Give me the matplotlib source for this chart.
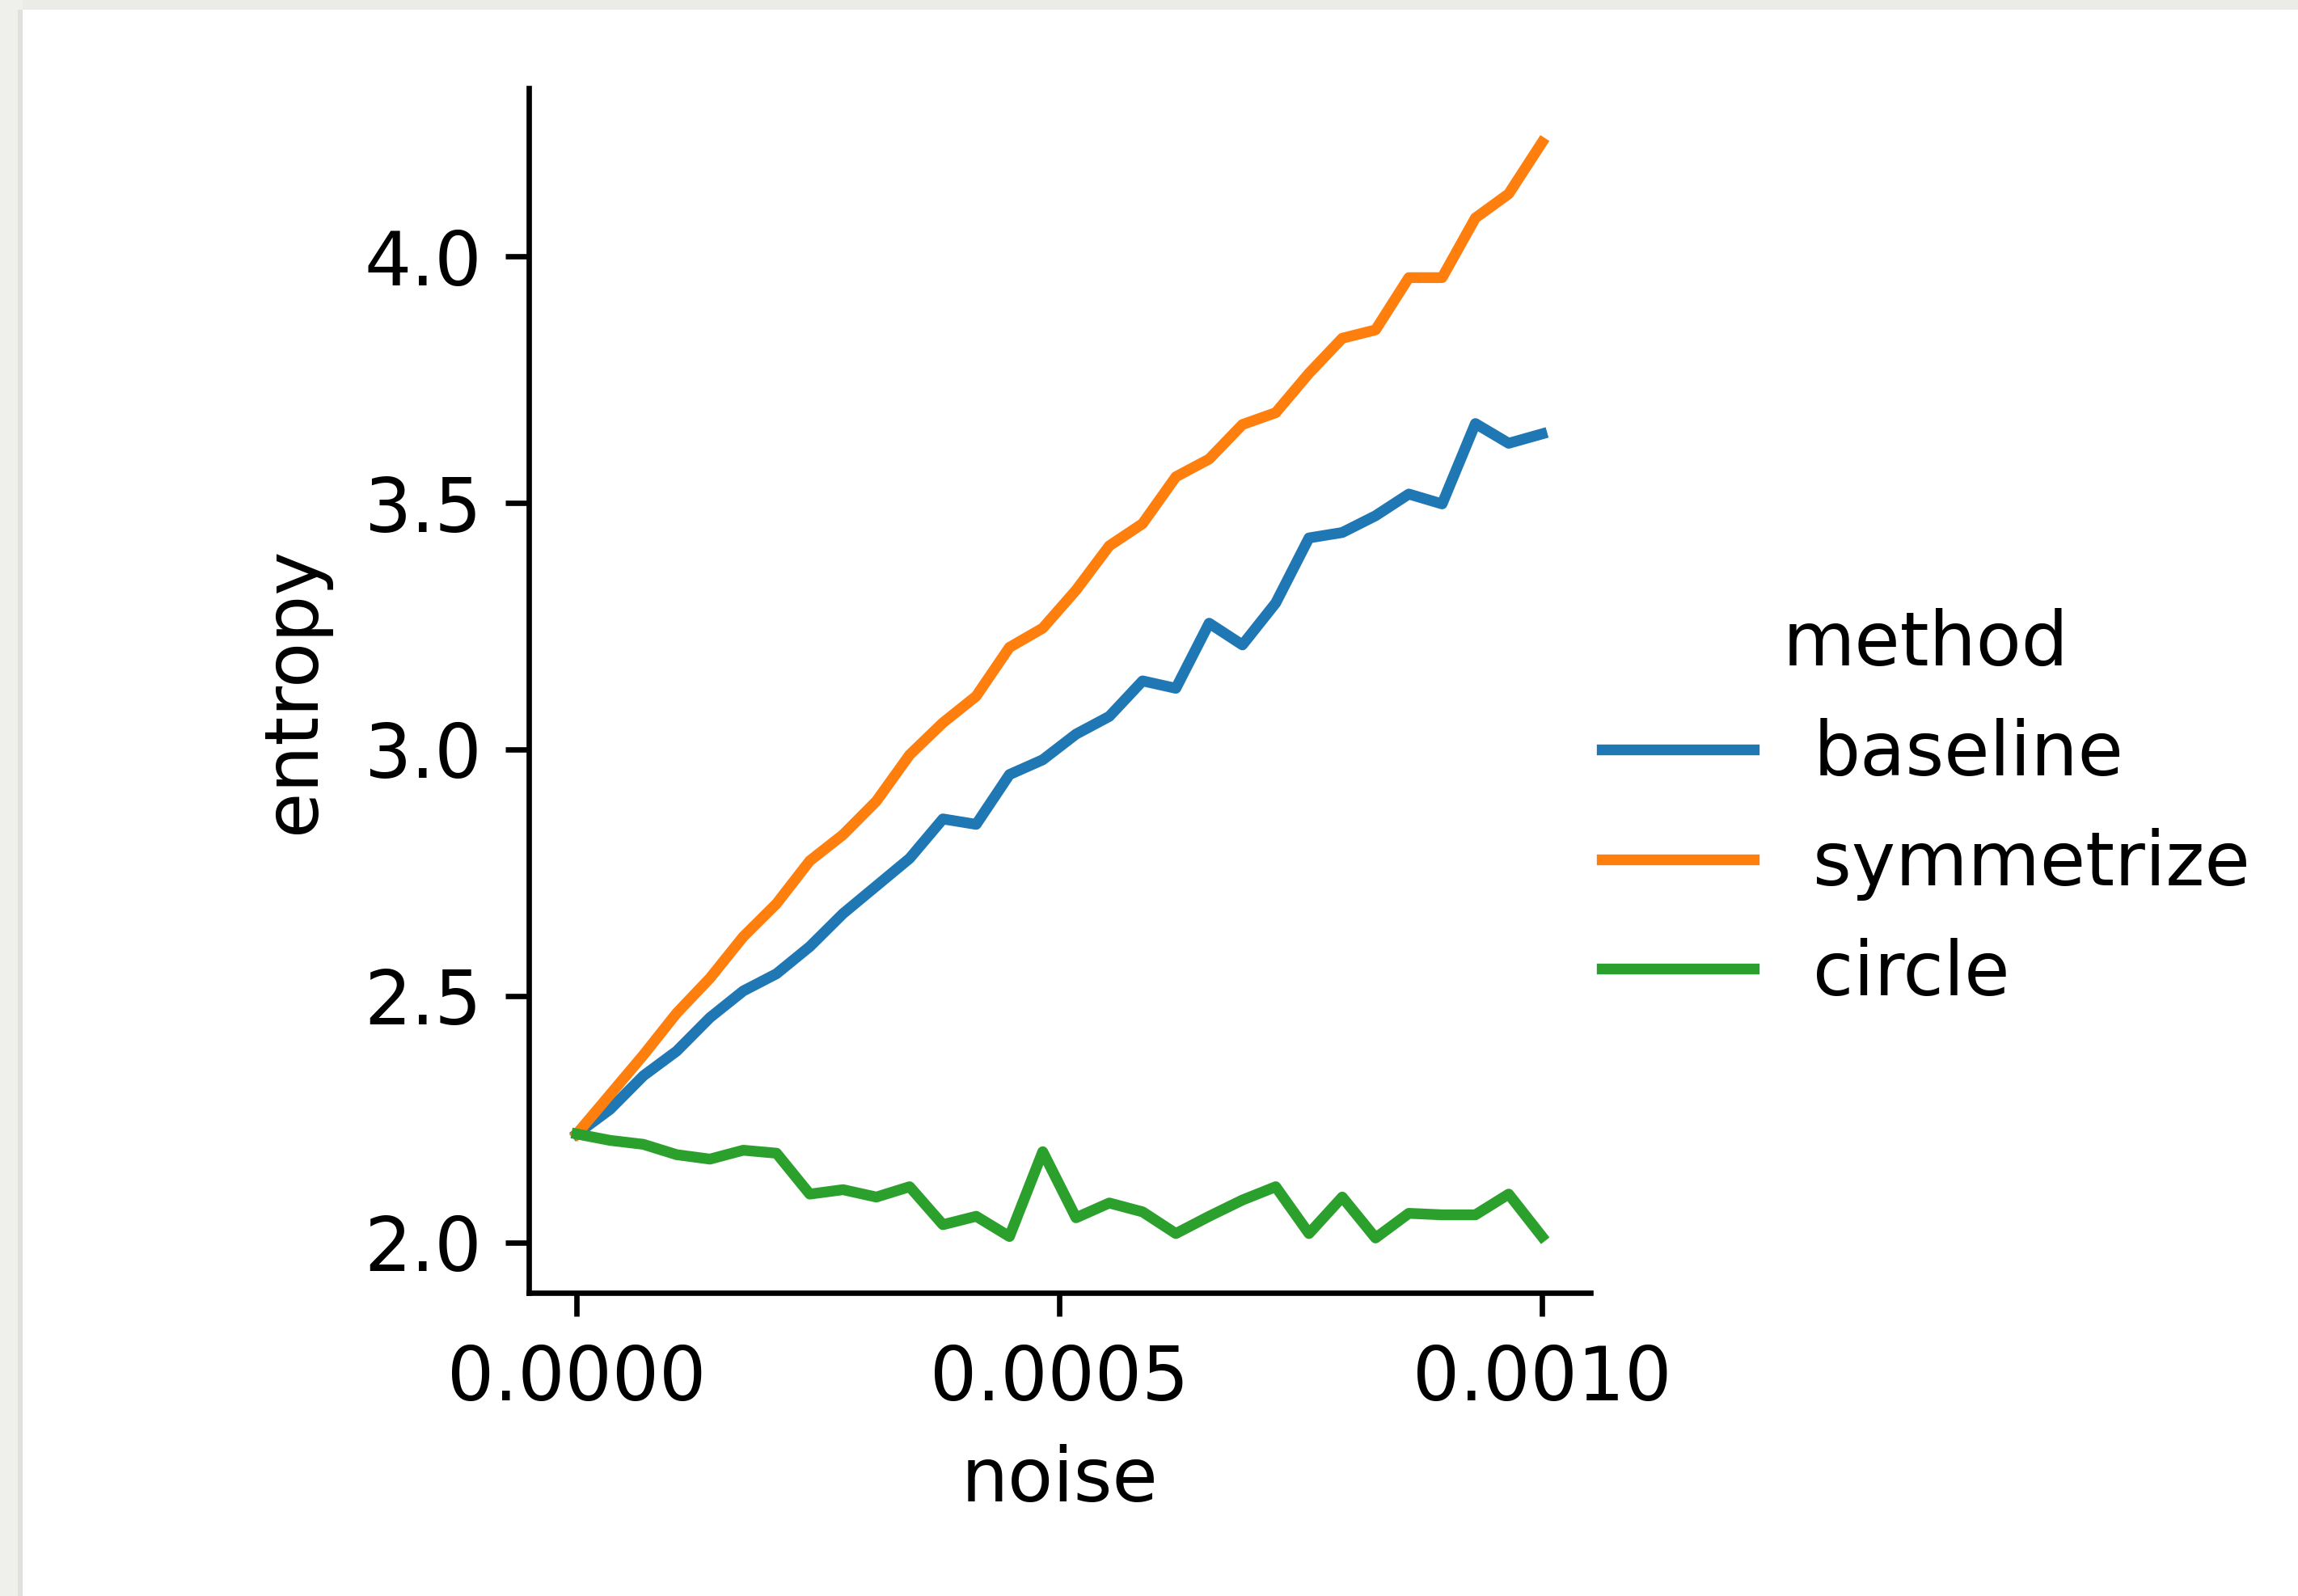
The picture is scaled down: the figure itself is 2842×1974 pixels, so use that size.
import numpy as np
import matplotlib
matplotlib.use("Agg")
import matplotlib.pyplot as plt
from matplotlib.patches import Rectangle

# noise levels: 30 evenly spaced steps
noise = np.linspace(0, 0.001, 30)

methods = ["baseline", "symmetrize", "circle"]
colors = ["#1f77b4", "#ff7f0e", "#2ca02c"]

baseline = [2.22, 2.27, 2.338, 2.388, 2.456, 2.51, 2.545, 2.60, 2.667, 2.723,
            2.779, 2.859, 2.848, 2.949, 2.979, 3.031, 3.067, 3.139, 3.124, 3.256,
            3.212, 3.297, 3.429, 3.440, 3.474, 3.518, 3.498, 3.661, 3.621, 3.640]
symmetrize = [2.22, 2.30, 2.38, 2.465, 2.536, 2.62, 2.687, 2.774, 2.827, 2.895,
              2.989, 3.054, 3.108, 3.207, 3.246, 3.323, 3.413, 3.458, 3.553, 3.589,
              3.659, 3.683, 3.763, 3.834, 3.851, 3.957, 3.957, 4.078, 4.127, 4.231]
circle = [2.22, 2.207, 2.199, 2.178, 2.169, 2.187, 2.181, 2.098, 2.107, 2.092,
          2.113, 2.036, 2.053, 2.012, 2.184, 2.05, 2.08, 2.062, 2.018, 2.053,
          2.086, 2.113, 2.018, 2.092, 2.009, 2.059, 2.056, 2.056, 2.098, 2.012]

series = [baseline, symmetrize, circle]

FS = 22
plt.rcParams["font.family"] = ["DejaVu Sans"]
plt.rcParams["font.size"] = FS

fig = plt.figure(figsize=(2842 / 300, 1974 / 300), dpi=300)
ax = fig.add_axes([0.230, 0.190, 0.462, 0.755])

for name, vals, c in zip(methods, series, colors):
    ax.plot(noise, vals, color=c, lw=3.2, label=name)

ax.set_xticks([0, 0.0005, 0.001])
ax.set_xticklabels(["0.0000", "0.0005", "0.0010"])
ax.set_yticks([2.0, 2.5, 3.0, 3.5, 4.0])
ax.set_xlabel("noise", fontsize=FS, labelpad=8.4)
ax.set_ylabel("entropy", fontsize=FS, labelpad=10)
ax.tick_params(labelsize=FS, width=1.6, length=7)
ax.tick_params(axis="x", pad=7.8)
ax.tick_params(axis="y", pad=6.9)
for side in ["top", "right"]:
    ax.spines[side].set_visible(False)
for side in ["left", "bottom"]:
    ax.spines[side].set_linewidth(1.6)

leg = fig.legend(loc="center left", bbox_to_anchor=(0.668, 0.493), frameon=False,
                 title="method", fontsize=FS, title_fontsize=FS, handlelength=2.05)

# paper-like edge at top and left
fig.patches.append(Rectangle((0, 1 - 12 / 1974), 1, 12 / 1974, transform=fig.transFigure,
                             facecolor="#ebebe8", edgecolor="none", zorder=-1))
fig.patches.append(Rectangle((0, 0), 28 / 2842, 1, transform=fig.transFigure,
                             facecolor="#efefec", edgecolor="none", zorder=-1))
fig.patches.append(Rectangle((22 / 2842, 0), 6 / 2842, 1 - 12 / 1974, transform=fig.transFigure,
                             facecolor="#e0e0dd", edgecolor="none", zorder=-1))

fig.savefig("out.png", dpi=300)
